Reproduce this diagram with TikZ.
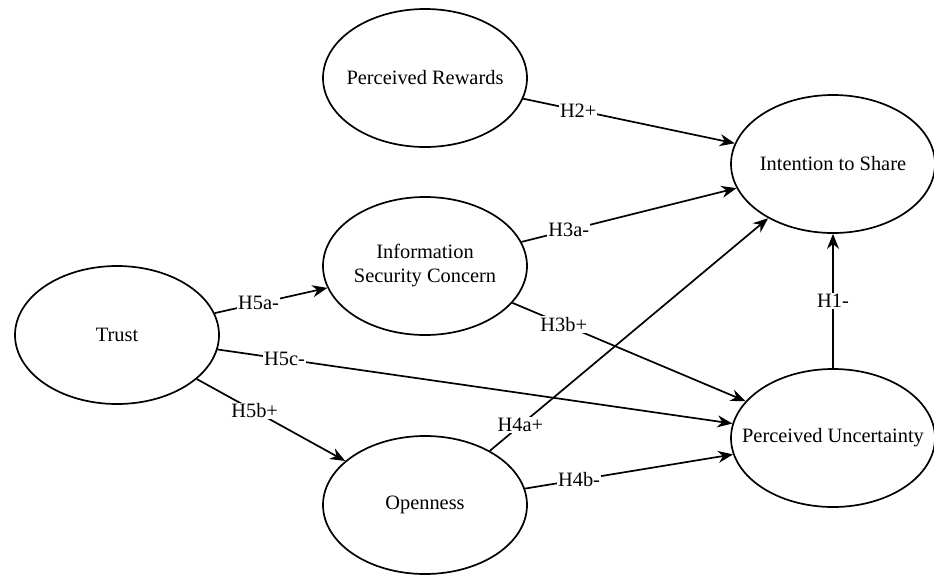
\documentclass[tikz,border=0pt]{standalone}
\usepackage{fontspec}
\setmainfont{Liberation Serif}
\usetikzlibrary{shapes.geometric,arrows.meta}
\begin{document}
\begin{tikzpicture}[x=1pt,y=-1pt,
    construct/.style={ellipse, draw, line width=1.7pt, minimum width=204pt,
      minimum height=138pt, inner xsep=-20pt, align=center},
    hyp/.style={line width=1.7pt, -{Stealth[length=15pt,width=12pt]}},
    hlabel/.style={fill=white, inner sep=1pt},
    font=\fontsize{20.4pt}{24pt}\selectfont]
  \useasboundingbox (0,0) rectangle (934,574);
  % constructs
  \node[construct] (rewards) at (425,78) {Perceived Rewards};
  \node[construct] (intention) at (833,164) {Intention to Share};
  \node[construct] (security) at (425,266) {Information\\Security Concern};
  \node[construct] (trust) at (117,335) {Trust};
  \node[construct] (uncertainty) at (833,438) {Perceived Uncertainty};
  \node[construct] (openness) at (425,505) {Openness};
  % hypotheses
  \draw[hyp] (rewards) -- node[hlabel,pos=.26] {H2+} (intention);
  \draw[hyp] (security) -- node[hlabel,pos=.22] {H3a-} (intention);
  \draw[hyp] (security) -- node[hlabel,pos=.22] {H3b+} (uncertainty);
  \draw[hyp] (uncertainty) -- node[hlabel] {H1-} (intention);
  \draw[hyp] (trust) -- node[hlabel,pos=.39] {H5a-} (security);
  \draw[hyp] (trust) -- node[hlabel,pos=.13] {H5c-} (uncertainty);
  \draw[hyp] (trust) -- node[hlabel,pos=.39] {H5b+} (openness);
  \draw[hyp] (openness) -- node[hlabel,pos=.11] {H4a+} (intention);
  \draw[hyp] (openness) -- node[hlabel,pos=.26] {H4b-} (uncertainty);
\end{tikzpicture}
\end{document}
